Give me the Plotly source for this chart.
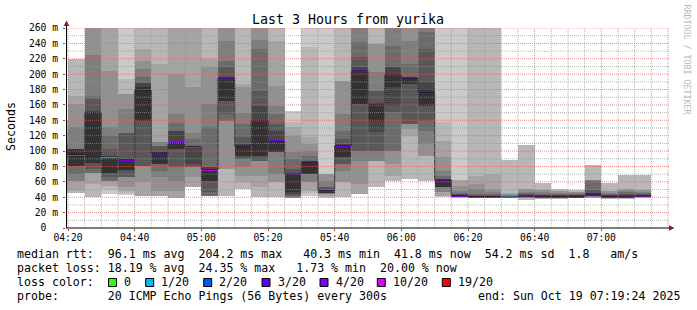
import plotly.graph_objects as go
from datetime import datetime, timedelta

# ---------------- data ----------------
DAY = "2025-10-19"
GRAPH_START = "04:19:24"
GRAPH_END = "07:19:24"

slot_start = ["04:15", "04:20", "04:25", "04:30", "04:35", "04:40", "04:45", "04:50",
              "04:55", "05:00", "05:05", "05:10", "05:15", "05:20", "05:25", "05:30",
              "05:35", "05:40", "05:45", "05:50", "05:55", "06:00", "06:05", "06:10",
              "06:15", "06:20", "06:25", "06:30", "06:35", "06:40", "06:45", "06:50",
              "06:55", "07:00", "07:05", "07:10"]

median_ms = [101, 95.5, 150, 92.7, 88.8, 179, 96.2, 110, 105.7, 75.8,
             195, 106.2, 139.5, 112.7, 70.2, 85.4, 48.5, 107, 204.2, 160.3,
             199.3, 194.6, 176.4, 62.4, 42.1, 40.8, 40.8, 40.3, 41.5, 41.2,
             41, 41.2, 43, 41.2, 41.3, 41.8]

loss_count = [10, 10, 4, 1, 4, 4, 4, 4, 10, 10,
              4, 4, 4, 4, 4, 4, 4, 4, 4, 4,
              4, 4, 4, 4, 4, 4, 4, 1, 4, 4,
              4, 4, 4, 4, 4, 4]

# received ping times per slot, sorted (ms)
pings_ms = [
    [45, 50, 60, 70, 80, 90, 95, 98, 103, 104, 106, 108, 110, 115, 125, 140],
    [45, 48, 61, 61, 70, 81, 81, 81, 103, 103, 103, 103, 131, 161, 172, 220],
    [40, 57, 71, 71, 71, 77, 85, 85, 151, 152, 168, 172, 225, 270, 272, 275],
    [44, 50, 55, 61.5, 61.5, 61.5, 66, 72, 72, 93.5, 94, 103, 120, 131, 204, 270, 272, 275],
    [43, 45, 48, 53, 66, 66, 66, 75, 75, 89.5, 90, 124, 124, 155, 174, 174, 194, 268],
    [42, 42, 59.4, 81, 81, 81, 139.5, 139.5, 183, 188, 188, 196, 207, 217.5, 233, 268],
    [41, 41, 48.5, 66, 74.5, 83, 83, 83, 98.4, 98.4, 107, 107, 111.4, 111.4, 213, 268],
    [39, 39, 48.5, 61.5, 79, 79, 102.7, 102.7, 111.4, 126.5, 126.5, 137, 148, 200, 270, 272],
    [53, 53, 66, 79, 79, 79, 83, 104, 107, 107, 107, 115.7, 124, 183, 270, 272],
    [41, 42, 42, 42, 42, 46.4, 61.5, 61.5, 77, 79, 79, 131, 161, 209, 220, 268],
    [41, 76.7, 76.7, 139.5, 139.5, 148, 165.5, 165.5, 196, 196, 209, 217.5, 243.5, 270, 272, 275],
    [50.7, 59.4, 68, 79, 89.7, 89.7, 94, 94, 107, 109, 118, 135, 150, 183, 187, 268],
    [40.7, 52.9, 68, 87.5, 87.5, 87.5, 94, 94, 141, 159, 178.5, 232.7, 244, 270, 272, 275],
    [40.7, 59.4, 59.4, 70.2, 98.4, 98.4, 98.4, 98.4, 113.5, 126.5, 135, 148, 159, 185, 243.5, 268],
    [39, 39, 39, 39, 39, 42, 42, 44, 46.4, 70.5, 71, 76.7, 89.7, 98.4, 120, 131, 137.4, 152.5],
    [42, 45, 48.5, 59.4, 59.4, 70.2, 70.2, 70.2, 70.2, 86, 86.5, 87.5, 94, 100.5, 109, 118, 235, 268],
    [39, 40, 42, 44, 44, 46, 46, 46, 46, 49.5, 50, 52.9, 52.9, 61.5, 70.2, 70.2, 70.2, 268],
    [40, 59.4, 59.4, 74.5, 83.2, 83.2, 91.9, 91.9, 108, 109.2, 115.7, 126.5, 148.2, 191.5, 191.5, 268],
    [44.2, 44.2, 57.2, 87.5, 100.5, 100.5, 161.2, 161.2, 205, 208.9, 221.9, 241.4, 268, 270, 272, 275],
    [52.9, 87.5, 87.5, 87.5, 100.5, 100.5, 124.4, 139.5, 161.5, 162, 178.5, 178.5, 202.4, 239.2, 239.2, 268],
    [61.5, 68, 83.2, 100.5, 100.5, 150.4, 159, 182.9, 200.2, 208.9, 208.9, 237, 268, 270, 272, 275],
    [63.7, 120, 128.7, 135.2, 135.2, 135.2, 187.2, 187.2, 195.5, 195.9, 195.9, 213.2, 243.5, 270, 272, 275],
    [61.5, 94, 94, 109.2, 126.5, 139.5, 159, 159, 180.7, 189.4, 232.7, 254.4, 262, 270, 272, 275],
    [40.7, 42, 42, 46.4, 46.4, 52.9, 52.9, 52.9, 52.9, 63, 63, 63, 68, 74.5, 91.9, 113.5, 137.4, 268],
    [39, 39.5, 40, 40, 40.5, 41, 41, 41.5, 41.5, 43, 43.5, 44, 45, 48.5, 55, 62, 62, 268],
    [39, 39, 39.5, 39.5, 40, 40, 40, 40, 41.5, 42, 43, 44.2, 50.7, 57.2, 68, 268],
    [39, 39, 39.5, 39.5, 40, 40, 40, 40, 41.5, 42, 43, 44, 46.4, 50.7, 70.2, 268],
    [39, 39.5, 39.5, 39.5, 39.5, 40, 40, 40, 40.5, 41, 41.5, 42, 43, 44, 46, 89],
    [37, 38.5, 39, 39.5, 40, 40, 40, 40.3, 43, 43.5, 44, 45, 47, 50.7, 50.7, 108.3],
    [37.5, 38.5, 39, 39.5, 40, 40, 40, 40.2, 42.5, 43, 43.5, 44, 46.4, 50, 50, 58.5],
    [38, 39, 39.5, 40, 40, 40, 40, 40.2, 42.5, 43, 43.5, 44.5, 46, 47.5, 47.5, 50.7],
    [38.5, 39, 39.5, 40, 40, 40, 40, 40.2, 42.5, 43, 43.5, 44, 45, 47, 47, 49.4],
    [39, 39.5, 40, 40.5, 41, 41.5, 42, 42, 45, 46, 50, 61.5, 63, 63, 63, 82.3],
    [37.5, 38.5, 39, 39.5, 40, 40, 40, 40.2, 42.5, 43, 43.5, 44.5, 46, 48.5, 48.5, 58.5],
    [38, 39, 39.5, 40, 40, 40, 40, 40.2, 42.5, 43, 44, 46.4, 47.5, 50.7, 50.7, 69.3],
    [39, 39.5, 40, 40, 40.3, 40.5, 40.5, 40.6, 43, 43.5, 44, 45, 47, 49.4, 49.4, 69.3],
]

PINGS_PER_ROUND = 20
loss_levels = [0, 1, 2, 3, 4, 10, 19]
loss_colors = ["#26ff00", "#00b8ff", "#0059ff", "#5e00ff", "#7e00ff", "#dd00ff", "#ff0000"]
loss_labels = ["0", "1/20", "2/20", "3/20", "4/20", "10/20", "19/20"]

y_ticks = list(range(0, 261, 20))
y_tick_text = ["0\u00a0\u00a0"] + [f"{v} m" for v in y_ticks[1:]]

legend_lines = [
    "median rtt:  96.1 ms avg  204.2 ms max   40.3 ms min  41.8 ms now  54.2 ms sd  1.8   am/s",
    "packet loss: 18.19 % avg  24.35 % max   1.73 % min  20.00 % now",
    "loss color:",
    "probe:       20 ICMP Echo Pings (56 Bytes) every 300s",
]
end_text = "end: Sun Oct 19 07:19:24 2025"
title_text = "Last 3 Hours from yurika"

# ---------------- geometry / style ----------------
W, H = 697, 310
ML, MR, MT, MB = 66, 28, 28, 82
PW, PH = W - ML - MR, H - MT - MB
Y_MAX = 260
MONO = "DejaVu Sans Mono"

def px(x):
    return (x - ML) / PW

def py(y):
    return (H - MB - y) / PH

t_start = datetime.fromisoformat(f"{DAY} {GRAPH_START}")
t_end = datetime.fromisoformat(f"{DAY} {GRAPH_END}")
# rrdtool canvas is 600 px for the requested span
x_end = t_start + (t_end - t_start) * (PW / 600)
STEP = timedelta(minutes=5)
starts = [datetime.fromisoformat(f"{DAY} {s}:00") for s in slot_start]
centers = [s + STEP / 2 for s in starts]
step_ms = STEP.total_seconds() * 1000

fig = go.Figure()

# smoke: nested bands between the i-th fastest and i-th slowest ping
half = PINGS_PER_ROUND // 2
for ibot in range(1, half + 1):
    xs, bases, heights = [], [], []
    for c, p in zip(centers, pings_ms):
        n = len(p) // 2
        j = ibot - (half + 1 - n)
        if 0 <= j < n:
            xs.append(c)
            bases.append(p[j])
            heights.append(p[2 * n - 1 - j] - p[j])
    g = int(190 / half * (half - ibot)) + 50
    fig.add_bar(x=xs, y=heights, base=bases, width=step_ms,
                marker=dict(color=f"rgb({g},{g},{g})", line=dict(width=0)),
                hoverinfo="skip", showlegend=False)

# median black step line
fig.add_scatter(x=starts + [starts[-1] + STEP], y=median_ms + [median_ms[-1]],
                mode="lines", line=dict(color="#202020", width=1, shape="hv"),
                hoverinfo="skip", showlegend=False)

# median coloured by loss (+-1 px)
def loss_color(l):
    col = loss_colors[0]
    for lv, c in zip(loss_levels, loss_colors):
        if l >= lv:
            col = c
    return col

one_px = Y_MAX / PH
fig.add_bar(x=centers, y=[2 * one_px] * len(median_ms),
            base=[m - one_px for m in median_ms], width=step_ms,
            marker=dict(color=[loss_color(l) for l in loss_count], line=dict(width=0)),
            hoverinfo="skip", showlegend=False)

shapes = []
# grid on top (rrdtool style)
MINOR = "rgba(150,150,150,0.7)"
MAJOR = "rgba(225,95,95,0.7)"
for v in range(10, Y_MAX + 1, 10):
    shapes.append(dict(type="line", xref="paper", yref="y", x0=0, x1=1, y0=v, y1=v,
                       line=dict(color=MAJOR if v % 20 == 0 else MINOR, width=1, dash="1px,1px"),
                       layer="above"))
t = datetime.fromisoformat(f"{DAY} 04:20:00")
while t <= x_end:
    shapes.append(dict(type="line", xref="x", yref="paper", x0=t, x1=t, y0=0, y1=1,
                       line=dict(color=MAJOR if t.minute % 20 == 0 else MINOR, width=1, dash="1px,1px"),
                       layer="above"))
    t += STEP

# axes lines and arrows
AX = "#000000"
ARROW = "#8b1a1a"
shapes.append(dict(type="line", xref="paper", yref="paper", x0=px(66.5), x1=px(66.5), y0=0, y1=py(24),
                   line=dict(color=AX, width=1), layer="above"))
shapes.append(dict(type="line", xref="paper", yref="paper", x0=0, x1=px(670), y0=0, y1=0,
                   line=dict(color=AX, width=1), layer="above"))
shapes.append(dict(type="path", xref="paper", yref="paper",
                   path=f"M {px(63.8)},{py(26)} L {px(69.2)},{py(26)} L {px(66.5)},{py(20.5)} Z",
                   fillcolor=ARROW, line=dict(width=0), layer="above"))
shapes.append(dict(type="path", xref="paper", yref="paper",
                   path=f"M {px(669)},{py(225.3)} L {px(669)},{py(230.7)} L {px(674.5)},{py(228)} Z",
                   fillcolor=ARROW, line=dict(width=0), layer="above"))

# legend boxes
box_left = [108.5, 145.7, 203.7, 262, 320, 377.3, 442.3]
BOX_Y = 282.5
for bl, c in zip(box_left, loss_colors):
    shapes.append(dict(type="rect", xref="paper", yref="paper",
                       x0=px(bl), x1=px(bl + 8), y0=py(BOX_Y + 4), y1=py(BOX_Y - 4),
                       fillcolor=c, line=dict(color="#000000", width=1), layer="above"))

def nb(s):
    return s.replace(" ", "\u00a0")

annotations = []
line_y = [254.3, 268.3, 282.3, 296.3]
for txt, yy in zip(legend_lines, line_y):
    annotations.append(dict(text=nb(txt), xref="paper", yref="paper", x=px(15.5), y=py(yy),
                            xanchor="left", yanchor="middle", showarrow=False, borderpad=0,
                            font=dict(family=MONO, size=11.6, color="#000")))
for bl, lab in zip(box_left, loss_labels):
    annotations.append(dict(text=lab, xref="paper", yref="paper", x=px(bl + 14.5), y=py(282.3),
                            xanchor="left", yanchor="middle", showarrow=False, borderpad=0,
                            font=dict(family=MONO, size=11.6, color="#000")))
annotations.append(dict(text=nb(end_text), xref="paper", yref="paper", x=px(681), y=py(296.3),
                        xanchor="right", yanchor="middle", showarrow=False, borderpad=0,
                        font=dict(family=MONO, size=11.6, color="#000")))
annotations.append(dict(text=nb(title_text), xref="paper", yref="paper", x=px(348), y=py(19),
                        xanchor="center", yanchor="middle", showarrow=False, borderpad=0,
                        font=dict(family=MONO, size=13.3, color="#000")))
annotations.append(dict(text="Seconds", xref="paper", yref="paper", x=px(11), y=py(127),
                        xanchor="center", yanchor="middle", showarrow=False, borderpad=0,
                        textangle=-90, font=dict(family=MONO, size=11.6, color="#000")))
annotations.append(dict(text=nb("RRDTOOL / TOBI OETIKER"), xref="paper", yref="paper",
                        x=px(686.5), y=py(59), xanchor="center", yanchor="middle",
                        showarrow=False, borderpad=0, textangle=90,
                        font=dict(family=MONO, size=8.3, color="#b8b8b8")))

x_ticks = [datetime.fromisoformat(f"{DAY} {h}") for h in
           ["04:20", "04:40", "05:00", "05:20", "05:40", "06:00", "06:20", "06:40", "07:00"]]

fig.update_layout(
    width=W, height=H, margin=dict(l=ML, r=MR, t=MT, b=MB, pad=0),
    paper_bgcolor="#ffffff", plot_bgcolor="#ffffff",
    barmode="overlay", bargap=0, showlegend=False,
    shapes=shapes, annotations=annotations,
    font=dict(family=MONO, color="#000"),
    xaxis=dict(type="date", range=[t_start, x_end], tickvals=x_ticks,
               ticktext=[d.strftime("%H:%M") for d in x_ticks],
               showgrid=False, zeroline=False, showline=False,
               ticks="outside", ticklen=2, tickcolor="#d04040", tickwidth=1,
               ticklabelstandoff=-2,
               tickfont=dict(family=MONO, size=9.7, color="#000"),
               fixedrange=True),
    yaxis=dict(range=[0, Y_MAX], tickvals=y_ticks, ticktext=y_tick_text,
               showgrid=False, zeroline=False, showline=False,
               ticks="outside", ticklen=2, tickcolor="#a04040", tickwidth=1,
               ticklabelstandoff=3,
               tickfont=dict(family=MONO, size=9.7, color="#000"),
               fixedrange=True),
)

fig.write_html("out.html")
